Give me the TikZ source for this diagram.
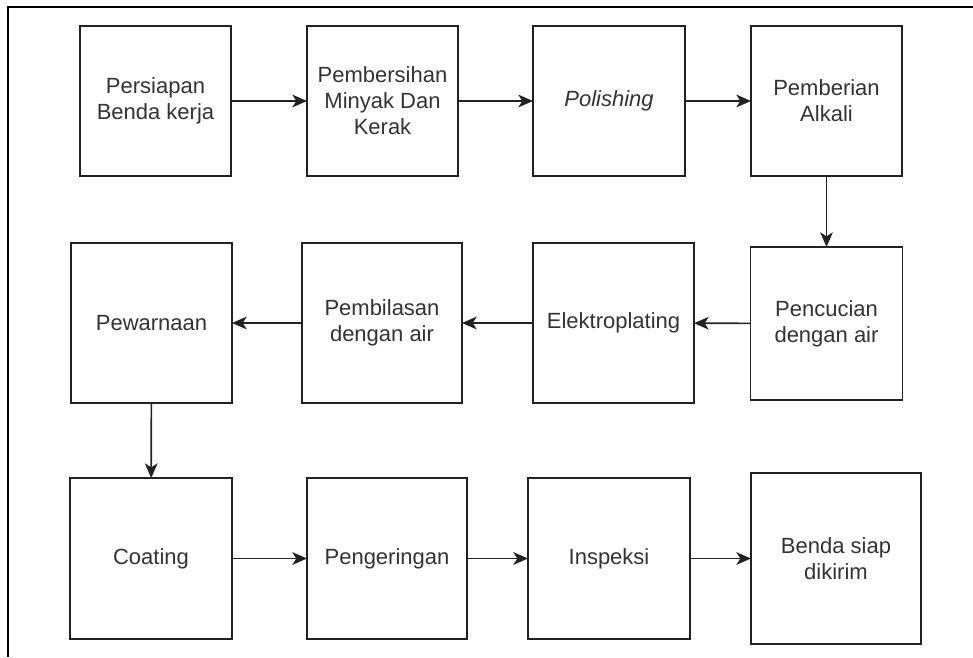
\documentclass[tikz,border=0pt]{standalone}
\usepackage{fontspec}
\setmainfont{Liberation Sans}
\usetikzlibrary{arrows.meta}
\definecolor{txt}{HTML}{333333}
\definecolor{edge}{HTML}{222222}
\tikzset{
  box/.style 2 args={draw=edge, line width=1.2pt, fill=white, minimum width=#1*0.75pt, minimum height=#2*0.75pt,
    inner sep=0pt, outer sep=0pt, align=center, text=txt,
    font=\fontsize{16.5pt}{19.5pt}\selectfont},
  flow/.style={draw=edge, line width=1.2pt, -{Stealth[length=11pt,width=9.5pt,inset=3pt]}},
  frame/.style={draw=black, line width=1.8pt}
}
\begin{document}
\begin{tikzpicture}[x=0.75pt,y=-0.75pt]
\useasboundingbox (0,0) rectangle (973,657);
\draw[frame] (973,7) -- (8,7) -- (8,657);
% row 1
\node[box={151}{150}] (b1) at (155.5,101) {Persiapan\\Benda kerja};
\node[box={151}{150}] (b2) at (382.5,101) {Pembersihan\\Minyak Dan\\Kerak};
\node[box={152}{150}] (b3) at (609,101) {\itshape Polishing};
\node[box={151}{150}] (b4) at (826.5,101) {Pemberian\\Alkali};
% row 2
\node[box={161}{160}] (c1) at (151.5,323) {Pewarnaan};
\node[box={160}{160}] (c2) at (382,323) {Pembilasan\\dengan air};
\node[box={161}{160}] (c3) at (613.5,323) {Elektroplating};
\node[box={152}{153}] (c4) at (826.5,323.5) {Pencucian\\dengan air};
% row 3
\node[box={162}{161}] (d1) at (151,558.5) {Coating};
\node[box={160}{161}] (d2) at (387,558.5) {Pengeringan};
\node[box={162}{161}] (d3) at (609,558.5) {Inspeksi};
\node[box={170}{171}] (d4) at (836,558.5) {Benda siap\\dikirim};
% connectors
\draw[flow] (b1) -- (b2);
\draw[flow] (b2) -- (b3);
\draw[flow] (b3) -- (b4);
\draw[flow] (b4) -- (c4);
\draw[flow] (c4) -- (c3);
\draw[flow] (c3) -- (c2);
\draw[flow] (c2) -- (c1);
\draw[flow] (c1) -- (d1);
\draw[flow] (d1) -- (d2);
\draw[flow] (d2) -- (d3);
\draw[flow] (d3) -- (d4);
\end{tikzpicture}
\end{document}
